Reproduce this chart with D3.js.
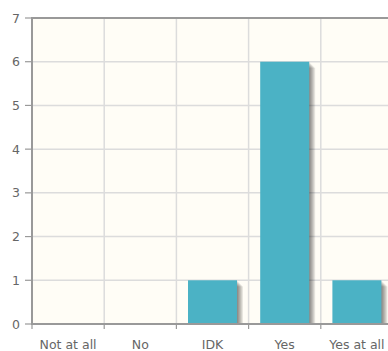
<!DOCTYPE html>
<html><head><meta charset="utf-8">
<script src="https://cdn.jsdelivr.net/npm/d3@7"></script>
<style>
html,body{margin:0;padding:0;background:#fff;}
svg{display:block;}
text{font-family:"DejaVu Sans",sans-serif;fill:#666;}
</style></head>
<body>
<script>
const categories = ["Not at all", "No", "IDK", "Yes", "Yes at all"];
const values = [0, 0, 1, 6, 1];
const yTicks = [0, 1, 2, 3, 4, 5, 6, 7];

const W = 388, H = 351;
const pL = 32, pR = 393, pT = 18, pB = 324;

const svg = d3.select("body").append("svg").attr("width", W).attr("height", H);

const x = d3.scaleBand().domain(categories).range([pL, pR]).paddingInner(0).paddingOuter(0);
const y = d3.scaleLinear().domain([0, 7]).range([pB, pT]);

// background
svg.append("rect").attr("x", pL).attr("y", pT).attr("width", pR - pL).attr("height", pB - pT).attr("fill", "#fffdf6");

// grid
const g = svg.append("g");
g.selectAll(".hg").data(yTicks).join("line")
  .attr("x1", pL).attr("x2", pR)
  .attr("y1", d => y(d)).attr("y2", d => y(d))
  .attr("stroke", "#dcdcdc").attr("stroke-width", 1.5);
const bounds = categories.map(c => x(c));
g.selectAll(".vg").data(bounds).join("line")
  .attr("x1", d => d).attr("x2", d => d)
  .attr("y1", pT).attr("y2", pB)
  .attr("stroke", "#dcdcdc").attr("stroke-width", 1.5);

// bar shadows
const bw = 49;
const bars = categories.map((c, i) => ({c, v: values[i]})).filter(d => d.v > 0);
const sh = svg.append("g");
[1, 2, 3, 4, 5, 6].forEach(k => {
  sh.selectAll(null).data(bars).join("rect")
    .attr("x", d => x(d.c) + x.bandwidth() / 2 - bw / 2 + k)
    .attr("y", d => y(d.v) + k)
    .attr("width", bw)
    .attr("height", d => pB - y(d.v) - k + 0.5)
    .attr("fill", "#000").attr("opacity", 0.09);
});

// bars
svg.append("g").selectAll("rect").data(bars).join("rect")
  .attr("x", d => x(d.c) + x.bandwidth() / 2 - bw / 2)
  .attr("y", d => y(d.v))
  .attr("width", bw)
  .attr("height", d => pB - y(d.v))
  .attr("fill", "#4bb2c5");

// border
svg.append("line").attr("x1", pL).attr("x2", pL).attr("y1", pT - 1).attr("y2", pB + 1).attr("stroke", "#999").attr("stroke-width", 2);
svg.append("line").attr("x1", pL).attr("x2", pR).attr("y1", pT).attr("y2", pT).attr("stroke", "#999").attr("stroke-width", 2);
svg.append("line").attr("x1", pL).attr("x2", pR).attr("y1", pB).attr("y2", pB).attr("stroke", "#999").attr("stroke-width", 2);

// y ticks
const ya = svg.append("g");
ya.selectAll("line").data(yTicks).join("line")
  .attr("x1", 25).attr("x2", pL).attr("y1", d => y(d)).attr("y2", d => y(d))
  .attr("stroke", "#999").attr("stroke-width", 1.2);
ya.selectAll("text").data(yTicks).join("text")
  .attr("x", 20).attr("y", d => y(d)).attr("dy", "0.36em")
  .attr("text-anchor", "end").attr("font-size", 12.5).text(d => d);

// x ticks
const xa = svg.append("g");
xa.selectAll("line").data(bounds).join("line")
  .attr("x1", d => d).attr("x2", d => d).attr("y1", pB).attr("y2", pB + 5)
  .attr("stroke", "#999").attr("stroke-width", 1.2);
xa.selectAll("text").data(categories).join("text")
  .attr("x", d => x(d) + x.bandwidth() / 2).attr("y", 349)
  .attr("text-anchor", "middle").attr("font-size", 12.5).text(d => d);
</script>
</body></html>
